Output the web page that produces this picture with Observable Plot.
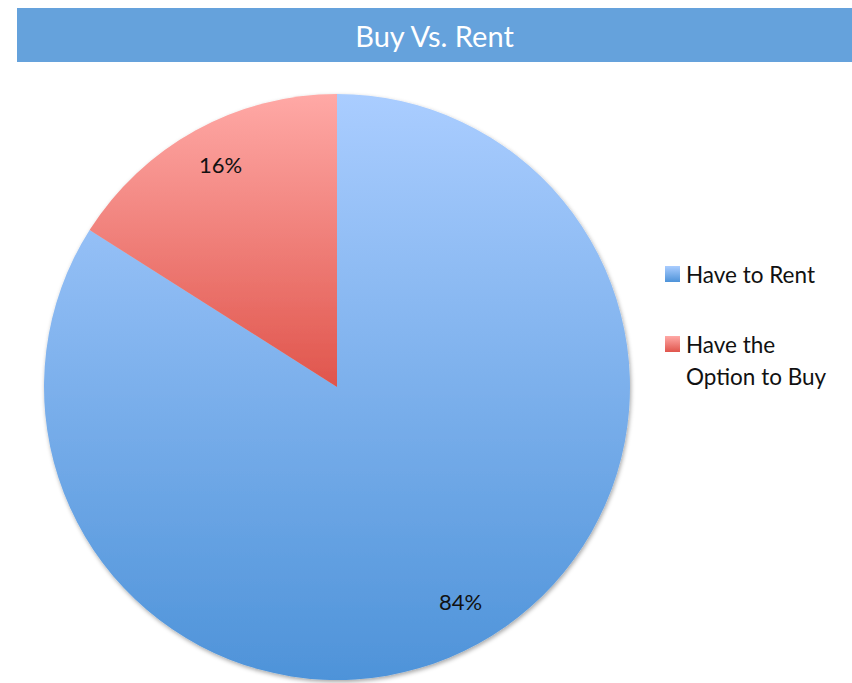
<!DOCTYPE html>
<html>
<head>
<meta charset="utf-8">
<script src="https://cdn.jsdelivr.net/npm/d3@7"></script>
<script src="https://cdn.jsdelivr.net/npm/@observablehq/plot@0.6"></script>
<style>
  body { margin: 0; background: #fff; font-family: Lato, "Open Sans", sans-serif; }
  #wrap { position: relative; width: 852px; height: 683px; overflow: hidden; }
  #title { position: absolute; left: 17px; top: 8px; width: 835px; height: 54px; background: #65a2dc;
           color: #fff; font-size: 29px; line-height: 56px; text-align: center; font-weight: 400; }
  #chart { position: absolute; left: 0; top: 62px; }
  .legend { position: absolute; left: 665px; font-size: 22.5px; color: #111; line-height: 32px; }
  .legend .sw { position: absolute; left: 0; top: 7px; width: 15px; height: 16px; }
  .legend .lb { position: absolute; left: 21px; top: 0; white-space: nowrap; }
</style>
</head>
<body>
<div id="wrap">
  <div id="title">Buy Vs. Rent</div>
  <div id="chart"></div>
  <div id="legend"></div>
</div>
<script>
const categories = ["Have to Rent", "Have the Option to Buy"];
const values = [84, 16];
const labels = ["84%", "16%"];
const gradTop = ["#aacdff", "#ffa9a6"];
const gradBottom = ["#4e93d9", "#e0554c"];

const data = categories.map((c, i) => ({category: c, value: values[i], label: labels[i], i}));
const arcs = d3.pie().sort(null).value(d => d.value)(data);
const labelR = 0.85;
const labelData = arcs.map(a => {
  const m = (a.startAngle + a.endAngle) / 2;
  return {x: labelR * Math.sin(m), y: labelR * Math.cos(m), label: a.data.label};
});

function pieMark(index, scales, values_, dimensions, context) {
  const g = d3.create("svg:g");
  const defs = g.append("defs");
  const f = defs.append("filter").attr("id", "pshadow").attr("x", "-10%").attr("y", "-10%").attr("width", "120%").attr("height", "120%");
  f.append("feDropShadow").attr("dx", 1).attr("dy", 2).attr("stdDeviation", 2.2).attr("flood-color", "#000").attr("flood-opacity", 0.35);
  data.forEach((d, i) => {
    const lg = defs.append("linearGradient").attr("id", "grad" + i).attr("x1", 0).attr("y1", 0).attr("x2", 0).attr("y2", 1);
    lg.append("stop").attr("offset", 0).attr("stop-color", gradTop[i]);
    lg.append("stop").attr("offset", 1).attr("stop-color", gradBottom[i]);
  });
  const cx = scales.x(0), cy = scales.y(0);
  const r = scales.x(1) - scales.x(0);
  const arc = d3.arc().innerRadius(0).outerRadius(r);
  const pg = g.append("g").attr("transform", `translate(${cx},${cy})`).attr("filter", "url(#pshadow)");
  pg.selectAll("path").data(arcs).join("path")
    .attr("d", arc)
    .attr("fill", (d, i) => `url(#grad${i})`);
  return g.node();
}

const chart = Plot.plot({
  width: 852,
  height: 621,
  margin: 0,
  x: {domain: [-1, 1], range: [44, 630], axis: null},
  y: {domain: [-1, 1], range: [618, 32], axis: null},
  style: {fontFamily: "Lato, 'Open Sans', sans-serif", background: "transparent"},
  marks: [
    pieMark,
    Plot.text(labelData, {x: "x", y: "y", text: "label", fontSize: 22, fill: "#111", dx: 3, dy: -3})
  ]
});
document.getElementById("chart").appendChild(chart);

// Legend
const legend = document.getElementById("legend");
const legendTops = [259, 329];
const legendLines = [["Have to Rent"], ["Have the", "Option to Buy"]];
categories.forEach((c, i) => {
  const item = document.createElement("div");
  item.className = "legend";
  item.style.top = legendTops[i] + "px";
  const sw = document.createElement("div");
  sw.className = "sw";
  sw.style.background = `linear-gradient(${gradTop[i]}, ${gradBottom[i]})`;
  const lb = document.createElement("div");
  lb.className = "lb";
  lb.innerHTML = legendLines[i].join("<br>");
  item.appendChild(sw); item.appendChild(lb);
  legend.appendChild(item);
});
</script>
</body>
</html>
